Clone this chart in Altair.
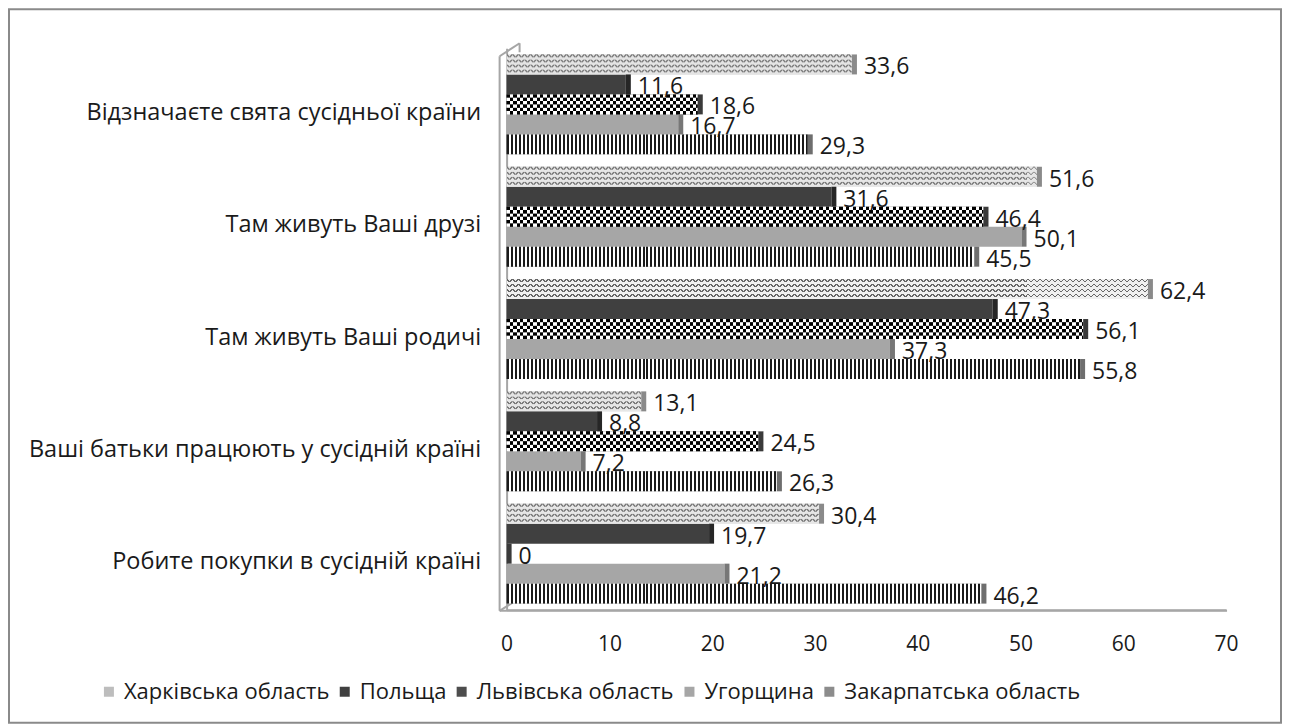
import json
import altair as alt
import pandas as pd

# ---------------- data ----------------
categories = [
    "Відзначаєте свята сусідньої країни",
    "Там живуть Ваші друзі",
    "Там живуть Ваші родичі",
    "Ваші батьки працюють у сусідній країні",
    "Робите покупки в сусідній країні",
]
series = ["Харківська область", "Польща", "Львівська область", "Угорщина", "Закарпатська область"]
kharkiv = [33.6, 51.6, 62.4, 13.1, 30.4]
polshcha = [11.6, 31.6, 47.3, 8.8, 19.7]
lviv = [18.6, 46.4, 56.1, 24.5, 0]
uhorshchyna = [16.7, 50.1, 37.3, 7.2, 21.2]
zakarpattia = [29.3, 45.5, 55.8, 26.3, 46.2]
values_by_series = [kharkiv, polshcha, lviv, uhorshchyna, zakarpattia]

# ---------------- layout constants ----------------
W, H = 720, 562
XMAX = 70
PX = W / XMAX                 # pixels per unit on x
BAR_PX = 20.0                 # bar thickness in px
UNIT_PX = H / 5               # px per category unit on y
T = BAR_PX / UNIT_PX          # bar thickness in y units
M = (1 - 5 * T) / 2           # group margin
FONT = "Open Sans"
TXT = "#1a1a1a"
AXIS_GRAY = "#a6a6a6"

rows = []
for si, (s, vals) in enumerate(zip(series, values_by_series)):
    for gi, (c, v) in enumerate(zip(categories, vals)):
        y0 = gi + M + si * T
        rows.append(dict(cat=c, series=s, si=si, gi=gi, v=v, y0=y0, y1=y0 + T, yc=y0 + T / 2))
df = pd.DataFrame(rows)

xscale = alt.Scale(domain=[0, XMAX], nice=False, zero=True)
yscale = alt.Scale(domain=[0, 5], reverse=True, nice=False, zero=False)

base = alt.Chart(df)

X = alt.X("v:Q", scale=xscale,
          axis=alt.Axis(values=list(range(0, 71, 10)), grid=False, ticks=False,
                        domainColor=AXIS_GRAY, domainWidth=2, labelFont=FONT,
                        labelFontSize=21, labelColor=TXT, labelPadding=24, labelFlush=False,
                        title=None))
Y0 = alt.Y("y0:Q", scale=yscale,
           axis=alt.Axis(values=[0.5, 1.5, 2.5, 3.5, 4.5], grid=False, ticks=False,
                         domainColor=AXIS_GRAY, domainWidth=2, labelFont=FONT,
                         labelFontSize=23.5, labelColor=TXT, labelPadding=26, labelLimit=520,
                         labelOffset=8, title=None, labelFlush=False,
                         labelExpr=json.dumps(categories, ensure_ascii=False) + "[floor(datum.value)]"))

base_colors = ["#bdbdbd", "#404040", "#4d4d4d", "#a6a6a6", "#8c8c8c"]
cap_colors = ["#8a8a8a", "#262626", "#3a3a3a", "#777777", "#6e6e6e"]

one = pd.DataFrame({"a": [0]})
frame = alt.Chart(one).mark_rect(
    fill="white", fillOpacity=0, stroke="#8a8a8a", strokeWidth=2
).encode(x=alt.value(-498), x2=alt.value(775), y=alt.value(-39), y2=alt.value(675))


def deco(x, x2, y, y2):
    return alt.Chart(one).mark_rule(color=AXIS_GRAY, strokeWidth=2).encode(
        x=alt.value(x), x2=alt.value(x2), y=alt.value(y), y2=alt.value(y2))


# 3D wall decoration (front edge and corners)
walls = [
    deco(-7, -7, 8, 563),
    deco(-7, 13, 8, -5),
    deco(13, 13, -5, 4),
    deco(-7, 12, 563, 551),
    deco(-7, 721, 563, 563),
]

bars = base.mark_rect().encode(
    x=X, x2=alt.value(0), y=Y0, y2="y1:Q",
    color=alt.Color("series:N", scale=alt.Scale(domain=series, range=base_colors),
                    sort=series,
                    legend=alt.Legend(title=None, orient="none", direction="horizontal",
                                      legendX=-409, legendY=633, symbolType="square",
                                      symbolSize=100, symbolStrokeWidth=0,
                                      labelFont=FONT, labelFontSize=22, labelColor=TXT,
                                      labelOffset=4, columnPadding=4, labelLimit=400,
                                      symbolOpacity=1)),
)

layers = [frame] + walls + [bars]


def hard_stops(segments):
    stops = []
    for a, b, col in segments:
        stops.append({"offset": round(max(0.0, min(1.0, a)), 6), "color": col})
        stops.append({"offset": round(max(0.0, min(1.0, b)), 6), "color": col})
    return stops


def hgrad(stops):
    return {"gradient": "linear", "x1": 0, "y1": 0, "x2": 1, "y2": 0, "stops": stops}


def sub_rows(si, gi, nrows, k, nsub):
    """Rows k, k+nsub, k+2*nsub ... of a bar split into nrows strips."""
    sub = df[(df.si == si) & (df.gi == gi)].copy()
    rr = pd.DataFrame({"r": list(range(k, nrows, nsub))})
    sub = sub.merge(rr, how="cross")
    h = T / nrows
    sub["r0"] = sub.y0 + sub.r * h
    sub["r1"] = sub.r0 + h
    return sub


# Харківська: zigzag lines (rows of 1px strips)
ZSUB = 5           # 1px strips per zigzag row
PER = 6.0          # horizontal period of zigzag
ZW = 1.6           # line width (horizontal)
LINEC = "#676767"
BG = "#f0f0f0"
for gi, v in enumerate(kharkiv):
    L = v * PX
    nrows = int(BAR_PX)  # 1px strips
    for k in range(ZSUB):
        if k >= 3:
            g = hgrad([{"offset": 0, "color": BG}, {"offset": 1, "color": BG}])
        else:
            c1 = k + 0.5
            c2 = PER - (k + 0.5)
            segs = []
            n = int(L / PER) + 1
            for j in range(n):
                b0 = j * PER
                pts = sorted([(b0 + c1 - ZW / 2, b0 + c1 + ZW / 2), (b0 + c2 - ZW / 2, b0 + c2 + ZW / 2)])
                cur = b0
                for a, b in pts:
                    segs.append((cur / L, a / L, BG))
                    segs.append((a / L, b / L, LINEC))
                    cur = b
                segs.append((cur / L, (b0 + PER) / L, BG))
            g = hgrad(hard_stops(segs))
        sub = sub_rows(0, gi, nrows, k, ZSUB)
        layers.append(alt.Chart(sub).mark_rect(fill=g).encode(
            x="v:Q", x2=alt.value(0), y="r0:Q", y2="r1:Q"))

# Львівська: checker, 6 rows per bar
CELL = 3.33
NR = 6
for gi, v in enumerate(lviv):
    if v <= 0:
        continue
    L = v * PX
    n = int(L / CELL) + 1
    for par in range(2):
        segs = []
        for j in range(n):
            col = "#000000" if (j + par) % 2 == 0 else "#ffffff"
            segs.append((j * CELL / L, (j + 1) * CELL / L, col))
        sub = sub_rows(2, gi, NR, par, 2)
        layers.append(alt.Chart(sub).mark_rect(fill=hgrad(hard_stops(segs))).encode(
            x="v:Q", x2=alt.value(0), y="r0:Q", y2="r1:Q"))

# Закарпатська: vertical stripes
PITCH = 4.0
LINE = 2.0
for gi, v in enumerate(zakarpattia):
    L = v * PX
    n = int(L / PITCH) + 1
    segs = []
    for j in range(n):
        segs.append((j * PITCH / L, (j * PITCH + LINE) / L, "#1a1a1a"))
        segs.append(((j * PITCH + LINE) / L, (j + 1) * PITCH / L, "#ffffff"))
    lay = alt.Chart(df[(df.si == 4) & (df.gi == gi)]).mark_rect(fill=hgrad(hard_stops(segs))).encode(
        x="v:Q", x2=alt.value(0), y="y0:Q", y2="y1:Q")
    layers.append(lay)

# 3D end caps
caps = base.mark_rect(x2Offset=5).encode(
    x="v:Q", x2="v:Q", y="y0:Q", y2="y1:Q",
    fill=alt.Fill("series:N", scale=alt.Scale(domain=series, range=cap_colors), legend=None),
)
layers.append(caps)

labels = base.transform_calculate(
    lbl="datum.v == 0 ? '0' : replace(format(datum.v, '.1f'), '.', ',')"
).mark_text(align="left", baseline="middle", dx=12, dy=3, font=FONT, fontSize=23, color=TXT).encode(
    x="v:Q", y="yc:Q", text="lbl:N")
layers.append(labels)

chart = alt.layer(*layers).properties(
    width=W, height=H,
    autosize=alt.AutoSizeParams(type="none"),
    padding={"left": 499, "top": 40, "right": 56, "bottom": 115},
    background="white",
).configure_view(stroke=None)

chart.save("out.html", embed_options={"renderer": "svg", "actions": False})
